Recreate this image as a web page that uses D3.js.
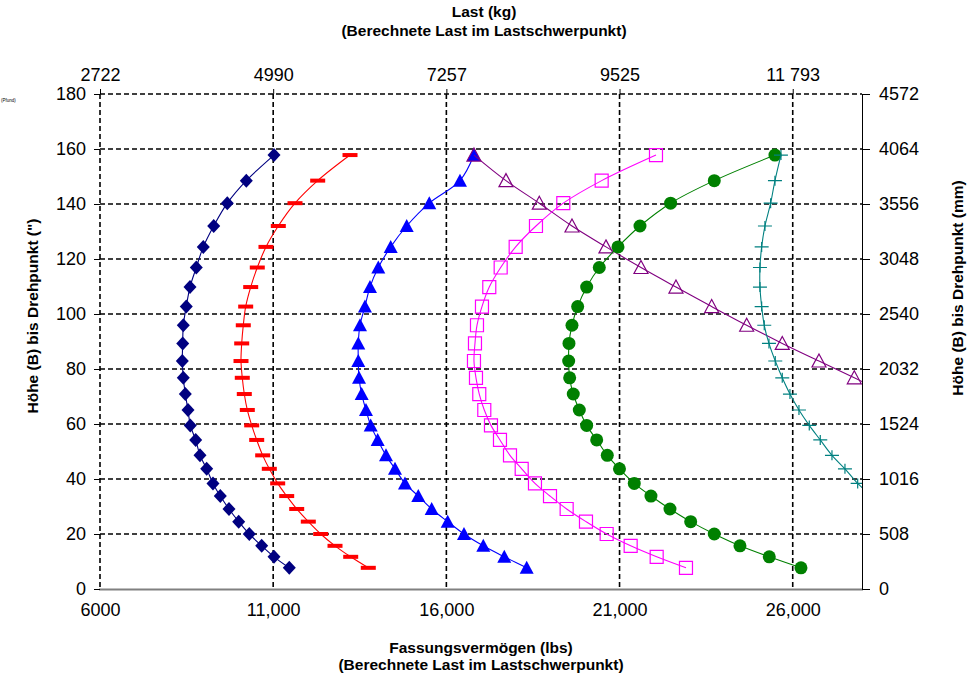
<!DOCTYPE html>
<html>
<head>
<meta charset="utf-8">
<script src="https://cdn.jsdelivr.net/npm/d3@7"></script>
<style>
  body { margin: 0; background: #fff; }
  text { font-family: "Liberation Sans", Arial, sans-serif; }
</style>
</head>
<body>
<svg id="chart" width="970" height="674"></svg>
<script>
// Heights (B) to pivot point, inches, shared by all curves (bottom to top)
const heights = [7.7, 11.7, 15.7, 20, 24.5, 29.1, 33.8, 38.4, 43.7, 48.6, 54.2, 59.5, 65.1,
                 70.9, 76.8, 82.9, 89.3, 95.9, 102.7, 109.8, 116.9, 124.4, 132, 140.3, 148.5, 157.8];

// Capacity (lbs) per height, one list per curve; null = no value at that height
const capNavy = [11465, 11024, 10668, 10310, 10004, 9724, 9473, 9262, 9080, 8887, 8763, 8607, 8541,
                 8463, 8405, 8376, 8388, 8405, 8491, 8598, 8780, 8982, 9283, 9675, 10224, 11024];
const capRed = [13746, 13238, 12785, 12372, 12014, 11679, 11390, 11130, 10888, 10697, 10524, 10380, 10253,
                10166, 10108, 10071, 10091, 10137, 10206, 10351, 10541, 10792, 11148, 11630, 12285, 13218];
const capBlue = [18319, 17672, 17066, 16509, 16038, 15576, 15189, 14805, 14517, 14257, 14017, 13815, 13679,
                 13555, 13478, 13457, 13457, 13506, 13650, 13795, 14035, 14393, 14855, 15507, 16393, 16797];
const capPurple = [null, null, null, null, null, null, null, null, null, null, null, null, null,
                   28750, 27777, 26758, 25698, 24670, 23660, 22629, 21619, 20608, 19627, 18683, 17721, 16797];
const capMagenta = [22918, 22072, 21321, 20628, 20031, 19473, 18992, 18558, 18175, 17837, 17548, 17288, 17095,
                    16950, 16855, 16797, 16826, 16884, 17028, 17239, 17568, 18001, 18587, 19376, 20484, 22052];
const capGreen = [26238, 25323, 24477, 23735, 23054, 22456, 21907, 21425, 20998, 20646, 20340, 20051, 19838,
                  19664, 19560, 19531, 19540, 19627, 19791, 20051, 20415, 20955, 21590, 22474, 23735, 25487];
const capTeal = [null, null, null, null, null, null, 28300, 27875, 27508, 27133, 26795, 26478, 26180,
                 25920, 25698, 25496, 25314, 25178, 25103, 25054, 25054, 25103, 25198, 25362, 25487, 25660];

// Axis ticks and labels
const lbsTicks = [6000, 11000, 16000, 21000, 26000];
const lbsTickLabels = ["6000", "11,000", "16,000", "21,000", "26,000"];
const kgTickLabels = ["2722", "4990", "7257", "9525", "11 793"];
const inchTicks = [0, 20, 40, 60, 80, 100, 120, 140, 160, 180];
const mmTickLabels = ["0", "508", "1016", "1524", "2032", "2540", "3048", "3556", "4064", "4572"];

const series = [
  { values: capNavy,    color: "#000080", marker: "diamond" },
  { values: capRed,     color: "#FF0000", marker: "dash" },
  { values: capBlue,    color: "#0000FF", marker: "triangle" },
  { values: capPurple,  color: "#800080", marker: "openTriangle" },
  { values: capMagenta, color: "#FF00FF", marker: "openSquare" },
  { values: capGreen,   color: "#008000", marker: "circle" },
  { values: capTeal,    color: "#008080", marker: "plus" }
];

const svg = d3.select("#chart");
const plot = { left: 100, right: 862, top: 94, bottom: 589 };

const x = d3.scaleLinear().domain([6000, 28000]).range([plot.left, plot.right]);
const y = d3.scaleLinear().domain([0, 180]).range([plot.bottom, plot.top]);

svg.append("defs").append("clipPath").attr("id", "plotClip")
  .append("rect")
  .attr("x", plot.left).attr("y", plot.top - 10)
  .attr("width", plot.right - plot.left).attr("height", plot.bottom - plot.top + 20);

// Dashed grid
const grid = svg.append("g");
grid.selectAll("line.h").data(inchTicks.filter(d => d > 0)).join("line")
  .attr("x1", plot.left).attr("x2", plot.right)
  .attr("y1", d => y(d)).attr("y2", d => y(d))
  .attr("stroke", "#000").attr("stroke-width", 1.6).attr("stroke-dasharray", "5,3");
grid.selectAll("line.v").data(lbsTicks).join("line")
  .attr("x1", d => x(d)).attr("x2", d => x(d))
  .attr("y1", plot.top).attr("y2", plot.bottom)
  .attr("stroke", "#000").attr("stroke-width", 1.6).attr("stroke-dasharray", "5,3");

// Bottom axis line and right axis line
svg.append("line").attr("x1", plot.left - 1).attr("x2", plot.right + 1)
  .attr("y1", plot.bottom + 0.5).attr("y2", plot.bottom + 0.5)
  .attr("stroke", "#808080").attr("stroke-width", 2);
svg.append("line").attr("x1", plot.right + 0.5).attr("x2", plot.right + 0.5)
  .attr("y1", plot.top).attr("y2", plot.bottom)
  .attr("stroke", "#000").attr("stroke-width", 1);

const tickFont = 18;

// Left axis (inches)
const leftAxis = svg.append("g").attr("transform", `translate(${plot.left},0)`)
  .call(d3.axisLeft(y).tickValues(inchTicks).tickSize(6).tickPadding(8).tickFormat(d3.format("d")));
leftAxis.select(".domain").remove();
leftAxis.selectAll(".tick line").attr("stroke", "#000");
leftAxis.selectAll("text").attr("font-size", tickFont).attr("fill", "#000")
  .attr("font-family", "'Liberation Sans', Arial, sans-serif");

// Right axis (mm)
const rightAxis = svg.append("g").attr("transform", `translate(${plot.right},0)`)
  .call(d3.axisRight(y).tickValues(inchTicks).tickSize(8).tickPadding(9)
    .tickFormat((d, i) => mmTickLabels[i]));
rightAxis.select(".domain").remove();
rightAxis.selectAll(".tick line").attr("stroke", "#000");
rightAxis.selectAll("text").attr("font-size", tickFont).attr("fill", "#000")
  .attr("font-family", "'Liberation Sans', Arial, sans-serif");

// Bottom axis (lbs)
const bottomAxis = svg.append("g").attr("transform", `translate(0,${plot.bottom})`)
  .call(d3.axisBottom(x).tickValues(lbsTicks).tickSize(0).tickPadding(14)
    .tickFormat((d, i) => lbsTickLabels[i]));
bottomAxis.select(".domain").remove();
bottomAxis.selectAll("text").attr("font-size", tickFont).attr("fill", "#000")
  .attr("font-family", "'Liberation Sans', Arial, sans-serif");

// Top axis (kg)
const topAxis = svg.append("g").attr("transform", `translate(0,${plot.top})`)
  .call(d3.axisTop(x).tickValues(lbsTicks).tickSize(5).tickPadding(8)
    .tickFormat((d, i) => kgTickLabels[i]));
topAxis.select(".domain").remove();
topAxis.selectAll(".tick line").attr("stroke", "#000");
topAxis.selectAll("text").attr("font-size", tickFont).attr("fill", "#000")
  .attr("font-family", "'Liberation Sans', Arial, sans-serif");

// Axis titles
const titleFont = 15.5;
const titles = svg.append("g").attr("font-weight", "bold").attr("font-size", titleFont).attr("fill", "#000");
titles.append("text").attr("x", 484).attr("y", 17).attr("text-anchor", "middle").text("Last (kg)");
titles.append("text").attr("x", 484).attr("y", 36).attr("text-anchor", "middle")
  .text("(Berechnete Last im Lastschwerpunkt)");
titles.append("text").attr("x", 481).attr("y", 653).attr("text-anchor", "middle").text("Fassungsvermögen (lbs)");
titles.append("text").attr("x", 481).attr("y", 670).attr("text-anchor", "middle")
  .text("(Berechnete Last im Lastschwerpunkt)");
titles.append("text").attr("transform", "translate(38,316) rotate(-90)").attr("text-anchor", "middle")
  .text("Höhe (B) bis Drehpunkt (\")");
titles.append("text").attr("transform", "translate(963,288) rotate(-90)").attr("text-anchor", "middle")
  .text("Höhe (B) bis Drehpunkt (mm)");

// Small unit note at the far left
svg.append("text").attr("x", 1).attr("y", 102)
  .attr("font-size", 4.5).attr("fill", "#000").text("(Pfund)");

// Curves
const curves = svg.append("g").attr("clip-path", "url(#plotClip)");

function markerPath(kind) {
  switch (kind) {
    case "diamond": return "M0,-7L6.5,0L0,7L-6.5,0Z";
    case "triangle":
    case "openTriangle": return "M0,-7L7,6L-7,6Z";
    case "openSquare": return "M-6.5,-6.5H6.5V6.5H-6.5Z";
    case "plus": return "M-7,0H7M0,-5V5";
    default: return null;
  }
}

series.forEach(s => {
  const pts = heights.map((h, i) => ({ h, v: s.values[i] })).filter(p => p.v != null);
  const line = d3.line().x(p => x(p.v)).y(p => y(p.h)).curve(d3.curveCatmullRom.alpha(0.5));
  curves.append("path").datum(pts).attr("d", line)
    .attr("fill", "none").attr("stroke", s.color).attr("stroke-width", 1.1);

  const g = curves.append("g");
  const marks = g.selectAll("g").data(pts).join("g")
    .attr("transform", p => `translate(${x(p.v)},${y(p.h)})`);
  if (s.marker === "circle") {
    marks.append("circle").attr("r", 6.5).attr("fill", s.color);
  } else if (s.marker === "dash") {
    marks.append("rect").attr("x", -7.5).attr("y", -2).attr("width", 15).attr("height", 4).attr("fill", s.color);
  } else if (s.marker === "diamond" || s.marker === "triangle") {
    marks.append("path").attr("d", markerPath(s.marker)).attr("fill", s.color);
  } else if (s.marker === "openTriangle" || s.marker === "openSquare") {
    marks.append("path").attr("d", markerPath(s.marker)).attr("fill", "none")
      .attr("stroke", s.color).attr("stroke-width", 1.2);
  } else if (s.marker === "plus") {
    marks.append("path").attr("d", markerPath(s.marker)).attr("fill", "none")
      .attr("stroke", s.color).attr("stroke-width", 1.2);
  }
});
</script>
</body>
</html>
